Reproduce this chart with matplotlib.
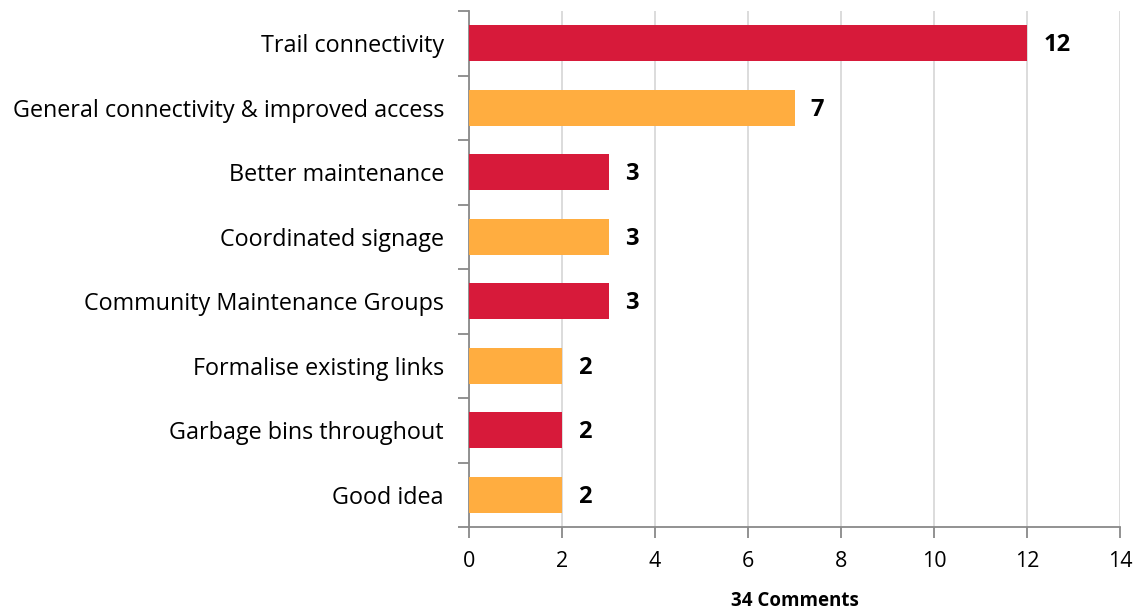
import matplotlib
matplotlib.use("Agg")
import matplotlib.pyplot as plt
import numpy as np

categories = ["Trail connectivity", "General connectivity & improved access",
              "Better maintenance", "Coordinated signage",
              "Community Maintenance Groups", "Formalise existing links",
              "Garbage bins throughout", "Good idea"]
values = [12, 7, 3, 3, 3, 2, 2, 2]
colors = ["#D71A3A", "#FFAD40"] * 4
xticks = [0, 2, 4, 6, 8, 10, 12, 14]
xlabel = "34 Comments"

plt.rcParams['font.family'] = ['Open Sans', 'DejaVu Sans']

fig = plt.figure(figsize=(11.38, 6.11), dpi=100)
ax = fig.add_axes([469/1138, 1-527/611, (1120-469)/1138, (527-11)/611])

n = len(categories)
y = np.arange(n)
ax.barh(y, values, height=0.56, color=colors, zorder=3)
ax.set_ylim(n - 0.5, -0.5)
ax.set_xlim(0, 14)
ax.set_xticks(xticks)
ax.set_xticklabels([str(t) for t in xticks], fontsize=15.5)
ax.set_yticks(y)
ax.set_yticklabels(categories, fontsize=16.8)
ax.tick_params(axis='y', length=0, pad=18)
ax.set_yticks(np.arange(n + 1) - 0.5, minor=True)
ax.tick_params(axis='y', which='minor', length=8, color='#898989', width=1.3)
ax.tick_params(axis='x', length=8, color='#898989', width=1.3, pad=9)

for i, v in enumerate(values):
    ax.text(v + 0.35, i + 0.03, str(v), va='center', ha='left', fontsize=17, fontweight='bold', color='black')

ax.grid(axis='x', color='#D9D9D9', linewidth=1.3, zorder=0)
for s in ['top', 'right']:
    ax.spines[s].set_visible(False)
for s in ['left', 'bottom']:
    ax.spines[s].set_color('#898989')
    ax.spines[s].set_linewidth(1.3)

ax.set_xlabel(xlabel, fontsize=13.5, fontweight='bold', labelpad=14)

fig.savefig("out.png", dpi=100)
